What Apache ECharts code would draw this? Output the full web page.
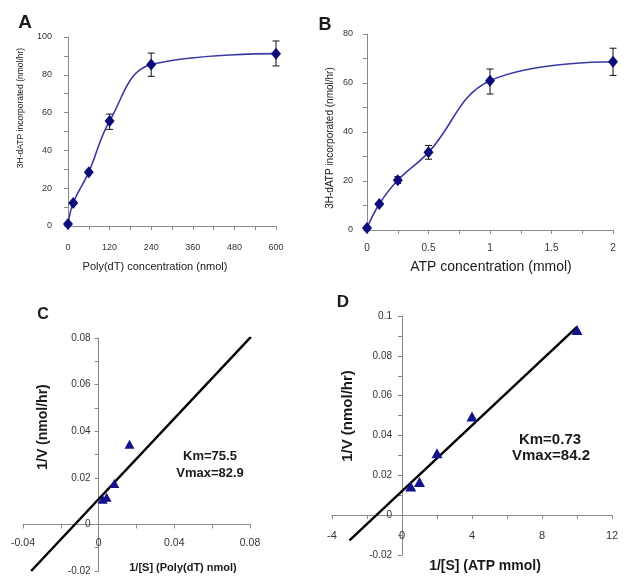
<!DOCTYPE html>
<html><head><meta charset="utf-8">
<script src="https://cdn.jsdelivr.net/npm/echarts@6/dist/echarts.min.js"></script>
<style>html,body{margin:0;padding:0;background:#fff}#c{width:629px;height:587px}</style>
</head><body><div id="c"></div>
<script>
// Panel A: Poly(dT) saturation
const aX = [0, 15, 60, 120, 240, 600];
const aY = [1, 12.2, 28.5, 55.5, 85.4, 91.2];
const aErrX = [120, 240, 600];
const aErrLow = [51.1, 79.2, 84.7];
const aErrHigh = [59.2, 91.5, 97.9];
// Panel B: ATP saturation
const bX = [0, 0.1, 0.25, 0.5, 1, 2];
const bY = [0.8, 10.6, 20.3, 31.7, 60.9, 68.7];
const bErrX = [0.25, 0.5, 1, 2];
const bErrLow = [19.0, 28.9, 55.5, 63.1];
const bErrHigh = [21.8, 34.5, 65.7, 74.2];
// Panel C: Lineweaver-Burk, Poly(dT)
const cX = [0.0021, 0.0042, 0.0083, 0.0163, 0.0800];
const cY = [0.0108, 0.0117, 0.0176, 0.0344, 0.0804];
const cFitX = [-0.0357, 0.0805];
const cFitY = [-0.0200, 0.0805];
// Panel D: Lineweaver-Burk, ATP
const dX = [0.5, 1, 2, 4, 10];
const dY = [0.0144, 0.0166, 0.0311, 0.0495, 0.0930];
const dFitX = [-3.0, 10.0];
const dFitY = [-0.0127, 0.0946];

const zip = (xs, ys) => xs.map((x, i) => [x, ys[i]]);
const zip3 = (xs, a, b) => xs.map((x, i) => [x, a[i], b[i]]);

const FONT = 'Liberation Sans, Arial, sans-serif';
const AXC = '#8a8a8a';
const LBL = '#333';

const grids = [
  { left: 68, top: 37, width: 208, height: 189 },
  { left: 367, top: 34, width: 246, height: 196 },
  { left: 23, top: 338, width: 227, height: 233 },
  { left: 332, top: 316, width: 280, height: 239 }
];
const xr = [[0, 600, 120], [0, 2, 0.5], [-0.04, 0.08, 0.04], [-4, 12, 4]];
const yr = [[0, 100, 20], [0, 80, 20], [-0.02, 0.08, 0.02], [-0.02, 0.1, 0.02]];

function axis(o) {
  return Object.assign({
    type: 'value',
    axisLine: { show: true, onZero: false, lineStyle: { color: AXC, width: 1 } },
    axisTick: { show: true, length: 4, lineStyle: { color: AXC } },
    minorTick: { show: true, splitNumber: 2, length: 4, lineStyle: { color: AXC } },
    splitLine: { show: false },
    minorSplitLine: { show: false }
  }, o);
}
function lbl(size, margin) {
  return { color: LBL, fontFamily: FONT, fontSize: size, margin: margin };
}
// place the crossing axes at the data zero of the other axis
function xOffset(i) { // move x axis up to y = 0
  const [mn, mx] = yr[i];
  return -((0 - mn) / (mx - mn)) * grids[i].height;
}
function yOffset(i) { // move y axis right to x = 0
  const [mn, mx] = xr[i];
  return -((0 - mn) / (mx - mn)) * grids[i].width;
}

function errorBar(xi, data) {
  return {
    type: 'custom', xAxisIndex: xi, yAxisIndex: xi,
    data: data,
    encode: { x: 0, y: [1, 2] },
    renderItem: function (params, api) {
      const x = api.value(0);
      const lo = api.coord([x, api.value(1)]);
      const hi = api.coord([x, api.value(2)]);
      const w = 3.5;
      const st = { stroke: '#111', lineWidth: 1 };
      return { type: 'group', children: [
        { type: 'line', shape: { x1: lo[0], y1: lo[1], x2: hi[0], y2: hi[1] }, style: st },
        { type: 'line', shape: { x1: lo[0] - w, y1: lo[1], x2: lo[0] + w, y2: lo[1] }, style: st },
        { type: 'line', shape: { x1: hi[0] - w, y1: hi[1], x2: hi[0] + w, y2: hi[1] }, style: st }
      ]};
    },
    z: 1
  };
}

function txt(x, y, text, size, weight, rot) {
  return {
    type: 'text', x: x, y: y, rotation: rot || 0,
    style: { text: text, font: (weight || 'normal') + ' ' + size + 'px ' + FONT,
             fill: '#1a1a1a', align: 'center', verticalAlign: 'middle' }
  };
}

const xLbl = [lbl(9, 17), lbl(10, 13), lbl(10.5, 13), lbl(11, 15)];
const yLbl = [lbl(9, 16), lbl(9, 14), lbl(10, 8), lbl(10, 10)];

const option = {
  animation: false,
  backgroundColor: '#fff',
  grid: grids.map(g => Object.assign({ outerBoundsMode: 'none' }, g)),
  xAxis: xr.map((r, i) => axis({ gridIndex: i, min: r[0], max: r[1], interval: r[2],
    offset: i >= 2 ? xOffset(i) : 0, axisLabel: xLbl[i] })),
  yAxis: yr.map((r, i) => axis({ gridIndex: i, min: r[0], max: r[1], interval: r[2],
    offset: i >= 2 ? yOffset(i) : 0, axisLabel: yLbl[i] })),
  series: [
    errorBar(0, zip3(aErrX, aErrLow, aErrHigh)),
    { type: 'line', xAxisIndex: 0, yAxisIndex: 0, data: zip(aX, aY), smooth: 0.4,
      lineStyle: { color: '#3b3ba3', width: 1.6 }, symbol: 'diamond', symbolSize: [10, 12],
      itemStyle: { color: '#0b0b7a' }, z: 3 },
    errorBar(1, zip3(bErrX, bErrLow, bErrHigh)),
    { type: 'line', xAxisIndex: 1, yAxisIndex: 1, data: zip(bX, bY), smooth: 0.4,
      lineStyle: { color: '#3b3ba3', width: 1.6 }, symbol: 'diamond', symbolSize: [10, 12],
      itemStyle: { color: '#0b0b7a' }, z: 3 },
    { type: 'line', xAxisIndex: 2, yAxisIndex: 2, data: zip(cFitX, cFitY), symbol: 'none',
      lineStyle: { color: '#000', width: 2.4 }, z: 2 },
    { type: 'scatter', xAxisIndex: 2, yAxisIndex: 2, data: zip(cX, cY), symbol: 'triangle',
      symbolSize: [10, 9], itemStyle: { color: '#12128a', opacity: 1 }, z: 3 },
    { type: 'line', xAxisIndex: 3, yAxisIndex: 3, data: zip(dFitX, dFitY), symbol: 'none',
      lineStyle: { color: '#000', width: 2.4 }, z: 2 },
    { type: 'scatter', xAxisIndex: 3, yAxisIndex: 3, data: zip(dX, dY), symbol: 'triangle',
      symbolSize: [11, 10], itemStyle: { color: '#12128a', opacity: 1 }, z: 3 }
  ],
  graphic: [
    txt(25, 23, 'A', 19, 'bold'),
    txt(325, 25, 'B', 18, 'bold'),
    txt(43, 315, 'C', 16, 'bold'),
    txt(343, 302, 'D', 17, 'bold'),
    txt(21, 108, '3H-dATP incorporated (nmol/hr)', 8.5, 'normal', Math.PI / 2),
    txt(155, 267, 'Poly(dT) concentration (nmol)', 11, 'normal'),
    txt(330, 138, '3H-dATP incorporated (nmol/hr)', 10, 'normal', Math.PI / 2),
    txt(491, 267, 'ATP concentration (mmol)', 14, 'normal'),
    txt(43, 427, '1/V (nmol/hr)', 14, 'bold', Math.PI / 2),
    txt(183, 568, '1/[S] (Poly(dT) nmol)', 11, 'bold'),
    txt(348, 416, '1/V (nmol/hr)', 15, 'bold', Math.PI / 2),
    txt(485, 566, '1/[S] (ATP mmol)', 14, 'bold'),
    txt(210, 456, 'Km=75.5', 13, 'bold'),
    txt(210, 473, 'Vmax=82.9', 13, 'bold'),
    txt(550, 440, 'Km=0.73', 15, 'bold'),
    txt(551, 456, 'Vmax=84.2', 15, 'bold')
  ]
};
const chart = echarts.init(document.getElementById('c'), null, { renderer: 'canvas' });
chart.setOption(option);
</script></body></html>
